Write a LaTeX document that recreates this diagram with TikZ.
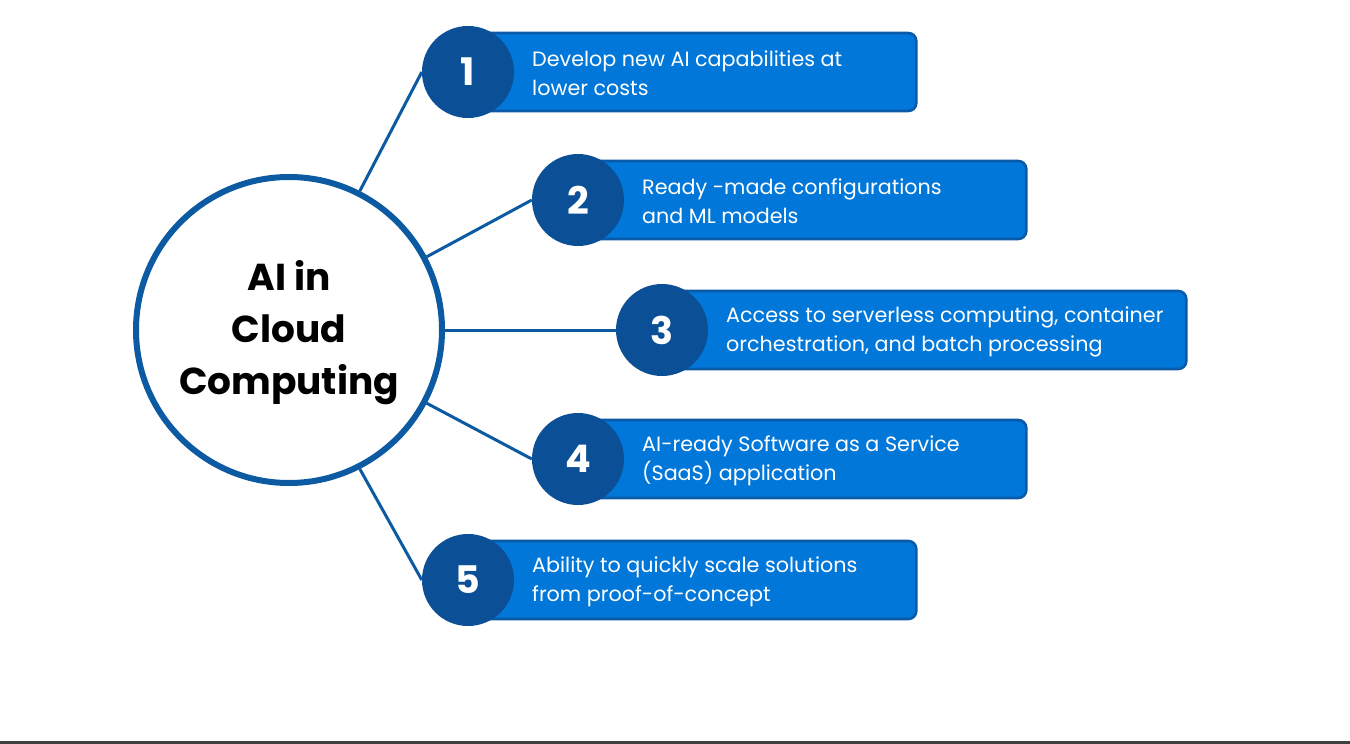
\documentclass[tikz,border=0pt]{standalone}
\usepackage{fontspec}
\setmainfont{Poppins}
\definecolor{ringblue}{HTML}{0B5AA2}
\definecolor{numblue}{HTML}{0B4F96}
\definecolor{boxblue}{HTML}{0077D9}
\definecolor{boxedge}{HTML}{0A5AA8}
\definecolor{botline}{HTML}{404040}
\tikzset{
  x=1pt, y=-1pt,
  hub/.style={circle, draw=ringblue, line width=6pt, fill=white, minimum size=306pt, inner sep=0pt,
    font=\fontsize{37.5}{52}\selectfont\bfseries, align=center, text=black},
  itembox/.style={draw=boxedge, line width=2.6pt, fill=boxblue, rounded corners=8pt,
    minimum height=78pt, anchor=west, inner sep=0pt},
  numdot/.style={circle, fill=numblue, minimum size=92pt, inner sep=0pt, text=white,
    font=\fontsize{38}{40}\selectfont\bfseries},
  itemtext/.style={anchor=west, text=white, align=left, inner sep=0pt,
    font=\fontsize{20.7}{29}\selectfont},
  spoke/.style={draw=ringblue, line width=3pt},
}
\begin{document}
\begin{tikzpicture}
\useasboundingbox (0,0) rectangle (1350,744);
\fill[white] (0,0) rectangle (1350,744);
\fill[botline] (0,741) rectangle (1350,744);

% boxes
\node[itembox, minimum width=447pt] (b1) at (468,72) {};
\node[itembox, minimum width=447pt] (b2) at (578,200) {};
\node[itembox, minimum width=523pt] (b3) at (662,330) {};
\node[itembox, minimum width=447pt] (b4) at (578,459) {};
\node[itembox, minimum width=447pt] (b5) at (468,580) {};

% number circles
\node[numdot] (n1) at (468,72) {1};
\node[numdot] (n2) at (578,200) {2};
\node[numdot] (n3) at (662,330) {3};
\node[numdot] (n4) at (578,459) {4};
\node[numdot] (n5) at (468,580) {5};

% texts
\node[itemtext] (t1) at (532,73) {Develop new AI capabilities at\\lower costs};
\node[itemtext] (t2) at (642,201) {Ready -made configurations\\and ML models};
\node[itemtext] (t3) at (726,331.5) {Access to serverless computing, container\\orchestration, and batch processing};
\node[itemtext] (t4) at (642,460.5) {AI-ready Software as a Service\\(SaaS) application};
\node[itemtext] (t5) at (532,582) {Ability to quickly scale solutions\\from proof-of-concept};

% hub
\node[hub] (c) at (289,330) {};
\node[font=\fontsize{37.5}{52}\selectfont\bfseries, align=center, text=black, inner sep=0pt] (ct) at (289,333) {AI in\\Cloud\\Computing};

% spokes
\draw[spoke] (c.63) -- (n1.west);
\draw[spoke] (c.28) -- (n2.west);
\draw[spoke] (c.east) -- (n3.west);
\draw[spoke] (c.-28) -- (n4.west);
\draw[spoke] (c.-63) -- (n5.west);
\end{tikzpicture}
\end{document}
